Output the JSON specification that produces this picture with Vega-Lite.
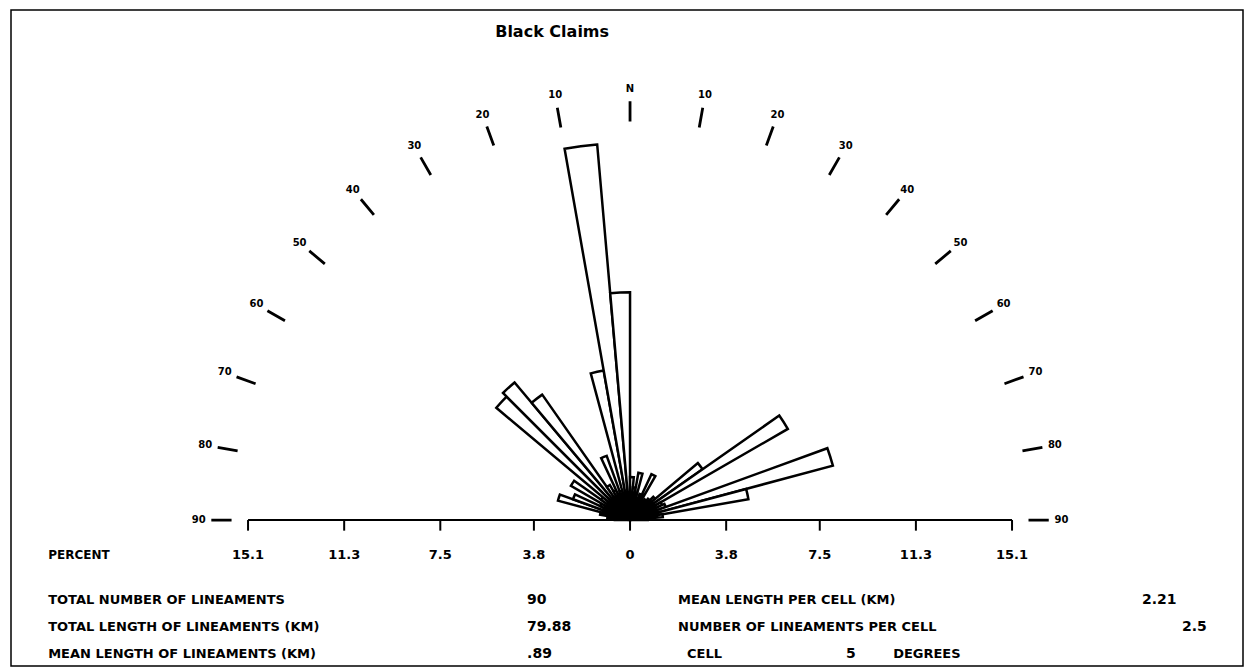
{
  "$schema": "https://vega.github.io/schema/vega-lite/v6.json",
  "width": 1232,
  "height": 656,
  "padding": {"left": 11, "top": 10, "right": 4, "bottom": 6},
  "autosize": {"type": "none"},
  "background": "white",
  "config": {
    "view": {"stroke": "black", "strokeWidth": 1.5},
    "font": "DejaVu Sans",
    "text": {"font": "DejaVu Sans", "fontWeight": "bold", "color": "black"}
  },
  "datasets": {
    "petals": [
      {"a0": -90, "a1": -85, "pct": 0.6},
      {"a0": -85, "a1": -80, "pct": 0.9},
      {"a0": -80, "a1": -75, "pct": 1.2},
      {"a0": -75, "a1": -70, "pct": 2.95},
      {"a0": -70, "a1": -65, "pct": 2.4},
      {"a0": -65, "a1": -60, "pct": 1.3},
      {"a0": -60, "a1": -55, "pct": 2.7},
      {"a0": -55, "a1": -50, "pct": 1.4},
      {"a0": -50, "a1": -45, "pct": 6.9},
      {"a0": -45, "a1": -40, "pct": 7.1},
      {"a0": -40, "a1": -35, "pct": 6.05},
      {"a0": -35, "a1": -30, "pct": 1.6},
      {"a0": -30, "a1": -25, "pct": 1.3},
      {"a0": -25, "a1": -20, "pct": 2.7},
      {"a0": -20, "a1": -15, "pct": 1.2},
      {"a0": -15, "a1": -10, "pct": 6.0},
      {"a0": -10, "a1": -5, "pct": 14.9},
      {"a0": -5, "a1": 0, "pct": 9.0},
      {"a0": 0, "a1": 5, "pct": 1.7},
      {"a0": 5, "a1": 10, "pct": 1.3},
      {"a0": 10, "a1": 15, "pct": 1.9},
      {"a0": 15, "a1": 20, "pct": 0.9},
      {"a0": 20, "a1": 25, "pct": 1.1},
      {"a0": 25, "a1": 30, "pct": 2.0},
      {"a0": 30, "a1": 35, "pct": 0.9},
      {"a0": 35, "a1": 40, "pct": 1.0},
      {"a0": 40, "a1": 45, "pct": 1.1},
      {"a0": 45, "a1": 50, "pct": 1.3},
      {"a0": 50, "a1": 55, "pct": 3.5},
      {"a0": 55, "a1": 60, "pct": 7.2},
      {"a0": 60, "a1": 65, "pct": 1.4},
      {"a0": 65, "a1": 70, "pct": 1.5},
      {"a0": 70, "a1": 75, "pct": 8.3},
      {"a0": 75, "a1": 80, "pct": 4.75},
      {"a0": 80, "a1": 85, "pct": 1.3},
      {"a0": 85, "a1": 90, "pct": 0.7}
    ],
    "dirs": [
      {"ang": -90, "lab": "90"}, {"ang": -80, "lab": "80"}, {"ang": -70, "lab": "70"},
      {"ang": -60, "lab": "60"}, {"ang": -50, "lab": "50"}, {"ang": -40, "lab": "40"},
      {"ang": -30, "lab": "30"}, {"ang": -20, "lab": "20"}, {"ang": -10, "lab": "10"},
      {"ang": 0, "lab": "N"},
      {"ang": 10, "lab": "10"}, {"ang": 20, "lab": "20"}, {"ang": 30, "lab": "30"},
      {"ang": 40, "lab": "40"}, {"ang": 50, "lab": "50"}, {"ang": 60, "lab": "60"},
      {"ang": 70, "lab": "70"}, {"ang": 80, "lab": "80"}, {"ang": 90, "lab": "90"}
    ],
    "ticks": [
      {"v": -15.1, "label": "15.1"}, {"v": -11.3, "label": "11.3"}, {"v": -7.5, "label": "7.5"},
      {"v": -3.8, "label": "3.8"}, {"v": 0, "label": "0"}, {"v": 3.8, "label": "3.8"},
      {"v": 7.5, "label": "7.5"}, {"v": 11.3, "label": "11.3"}, {"v": 15.1, "label": "15.1"}
    ]
  },
  "layer": [
    {
      "data": {"name": "petals"},
      "mark": {"type": "arc", "fill": "white", "stroke": "black", "strokeWidth": 2.5, "strokeJoin": "miter"},
      "encoding": {
        "x": {"datum": 0, "type": "quantitative", "scale": {"domain": [-24.47, 24.23], "nice": false, "zero": false}, "axis": null},
        "y": {"datum": 0, "type": "quantitative", "scale": {"domain": [-5.77, 20.16], "nice": false, "zero": false}, "axis": null},
        "theta": {"field": "a0", "type": "quantitative", "stack": null, "scale": {"domain": [-90, 90], "range": [-1.5707963, 1.5707963], "nice": false, "zero": false}},
        "theta2": {"field": "a1"},
        "radius": {"field": "pct", "type": "quantitative", "scale": {"type": "linear", "domain": [0, 20], "range": [0, 506], "nice": false, "zero": true}}
      }
    },
    {
      "data": {"name": "dirs"},
      "mark": {"type": "arc", "fill": null, "stroke": "black", "strokeWidth": 2.8, "strokeCap": "round"},
      "encoding": {
        "x": {"datum": 0, "type": "quantitative", "axis": null},
        "y": {"datum": 0, "type": "quantitative", "axis": null},
        "theta": {"field": "ang", "type": "quantitative", "stack": null},
        "theta2": {"field": "ang"},
        "radius": {"datum": 15.75, "type": "quantitative"},
        "radius2": {"datum": 16.55}
      }
    },
    {
      "data": {"name": "dirs"},
      "mark": {"type": "text", "fontSize": 10, "align": "center", "baseline": "middle"},
      "encoding": {
        "x": {"datum": 0, "type": "quantitative", "axis": null},
        "y": {"datum": 0, "type": "quantitative", "axis": null},
        "theta": {"field": "ang", "type": "quantitative", "stack": null},
        "radius": {"datum": 17.05, "type": "quantitative"},
        "text": {"field": "lab"}
      }
    },
    {
      "data": {"values": [{}]},
      "mark": {"type": "rule", "stroke": "black", "strokeWidth": 2},
      "encoding": {
        "x": {"datum": -15.1, "type": "quantitative", "axis": null},
        "x2": {"datum": 15.1},
        "y": {"datum": 0, "type": "quantitative", "axis": null}
      }
    },
    {
      "data": {"name": "ticks"},
      "mark": {"type": "rule", "stroke": "black", "strokeWidth": 2},
      "encoding": {
        "x": {"field": "v", "type": "quantitative", "axis": null},
        "y": {"datum": 0, "type": "quantitative", "axis": null},
        "y2": {"datum": -0.42}
      }
    },
    {
      "data": {"name": "ticks"},
      "mark": {"type": "text", "fontSize": 13, "align": "center", "baseline": "middle"},
      "encoding": {
        "x": {"field": "v", "type": "quantitative", "axis": null},
        "y": {"datum": -1.383, "type": "quantitative", "axis": null},
        "text": {"field": "label"}
      }
    },
    {
      "data": {"values": [{"t": "Black Claims"}]},
      "mark": {"type": "text", "fontSize": 16, "align": "center", "baseline": "middle"},
      "encoding": {
        "x": {"datum": -3.08, "type": "quantitative", "axis": null},
        "y": {"datum": 19.29, "type": "quantitative", "axis": null},
        "text": {"field": "t"}
      }
    },
    {
      "data": {"values": [{"t": "PERCENT"}]},
      "mark": {"type": "text", "fontSize": 12, "align": "left", "baseline": "middle"},
      "encoding": {
        "x": {"datum": -23.0, "type": "quantitative", "axis": null},
        "y": {"datum": -1.383, "type": "quantitative", "axis": null},
        "text": {"field": "t"}
      }
    },
    {
      "data": {"values": [{"t": "TOTAL NUMBER OF LINEAMENTS"}]},
      "mark": {"type": "text", "fontSize": 13, "align": "left", "baseline": "middle"},
      "encoding": {
        "x": {"datum": -23.0, "type": "quantitative", "axis": null},
        "y": {"datum": -3.162, "type": "quantitative", "axis": null},
        "text": {"field": "t"}
      }
    },
    {
      "data": {"values": [{"t": "TOTAL LENGTH OF LINEAMENTS  (KM)"}]},
      "mark": {"type": "text", "fontSize": 13, "align": "left", "baseline": "middle"},
      "encoding": {
        "x": {"datum": -23.0, "type": "quantitative", "axis": null},
        "y": {"datum": -4.229, "type": "quantitative", "axis": null},
        "text": {"field": "t"}
      }
    },
    {
      "data": {"values": [{"t": "MEAN LENGTH OF LINEAMENTS  (KM)"}]},
      "mark": {"type": "text", "fontSize": 13, "align": "left", "baseline": "middle"},
      "encoding": {
        "x": {"datum": -23.0, "type": "quantitative", "axis": null},
        "y": {"datum": -5.296, "type": "quantitative", "axis": null},
        "text": {"field": "t"}
      }
    },
    {
      "data": {"values": [{"t": "90"}]},
      "mark": {"type": "text", "fontSize": 14, "align": "left", "baseline": "middle"},
      "encoding": {
        "x": {"datum": -4.07, "type": "quantitative", "axis": null},
        "y": {"datum": -3.162, "type": "quantitative", "axis": null},
        "text": {"field": "t"}
      }
    },
    {
      "data": {"values": [{"t": "79.88"}]},
      "mark": {"type": "text", "fontSize": 14, "align": "left", "baseline": "middle"},
      "encoding": {
        "x": {"datum": -4.07, "type": "quantitative", "axis": null},
        "y": {"datum": -4.229, "type": "quantitative", "axis": null},
        "text": {"field": "t"}
      }
    },
    {
      "data": {"values": [{"t": ".89"}]},
      "mark": {"type": "text", "fontSize": 14, "align": "left", "baseline": "middle"},
      "encoding": {
        "x": {"datum": -4.07, "type": "quantitative", "axis": null},
        "y": {"datum": -5.296, "type": "quantitative", "axis": null},
        "text": {"field": "t"}
      }
    },
    {
      "data": {"values": [{"t": "MEAN LENGTH PER CELL  (KM)"}]},
      "mark": {"type": "text", "fontSize": 13, "align": "left", "baseline": "middle"},
      "encoding": {
        "x": {"datum": 1.897, "type": "quantitative", "axis": null},
        "y": {"datum": -3.162, "type": "quantitative", "axis": null},
        "text": {"field": "t"}
      }
    },
    {
      "data": {"values": [{"t": "NUMBER OF LINEAMENTS PER CELL"}]},
      "mark": {"type": "text", "fontSize": 13, "align": "left", "baseline": "middle"},
      "encoding": {
        "x": {"datum": 1.897, "type": "quantitative", "axis": null},
        "y": {"datum": -4.229, "type": "quantitative", "axis": null},
        "text": {"field": "t"}
      }
    },
    {
      "data": {"values": [{"t": "CELL"}]},
      "mark": {"type": "text", "fontSize": 13, "align": "left", "baseline": "middle"},
      "encoding": {
        "x": {"datum": 2.253, "type": "quantitative", "axis": null},
        "y": {"datum": -5.296, "type": "quantitative", "axis": null},
        "text": {"field": "t"}
      }
    },
    {
      "data": {"values": [{"t": "5"}]},
      "mark": {"type": "text", "fontSize": 14, "align": "left", "baseline": "middle"},
      "encoding": {
        "x": {"datum": 8.54, "type": "quantitative", "axis": null},
        "y": {"datum": -5.296, "type": "quantitative", "axis": null},
        "text": {"field": "t"}
      }
    },
    {
      "data": {"values": [{"t": "DEGREES"}]},
      "mark": {"type": "text", "fontSize": 13, "align": "left", "baseline": "middle"},
      "encoding": {
        "x": {"datum": 10.4, "type": "quantitative", "axis": null},
        "y": {"datum": -5.296, "type": "quantitative", "axis": null},
        "text": {"field": "t"}
      }
    },
    {
      "data": {"values": [{"t": "2.21"}]},
      "mark": {"type": "text", "fontSize": 14, "align": "left", "baseline": "middle"},
      "encoding": {
        "x": {"datum": 20.24, "type": "quantitative", "axis": null},
        "y": {"datum": -3.162, "type": "quantitative", "axis": null},
        "text": {"field": "t"}
      }
    },
    {
      "data": {"values": [{"t": "2.5"}]},
      "mark": {"type": "text", "fontSize": 14, "align": "left", "baseline": "middle"},
      "encoding": {
        "x": {"datum": 21.82, "type": "quantitative", "axis": null},
        "y": {"datum": -4.229, "type": "quantitative", "axis": null},
        "text": {"field": "t"}
      }
    }
  ]
}
